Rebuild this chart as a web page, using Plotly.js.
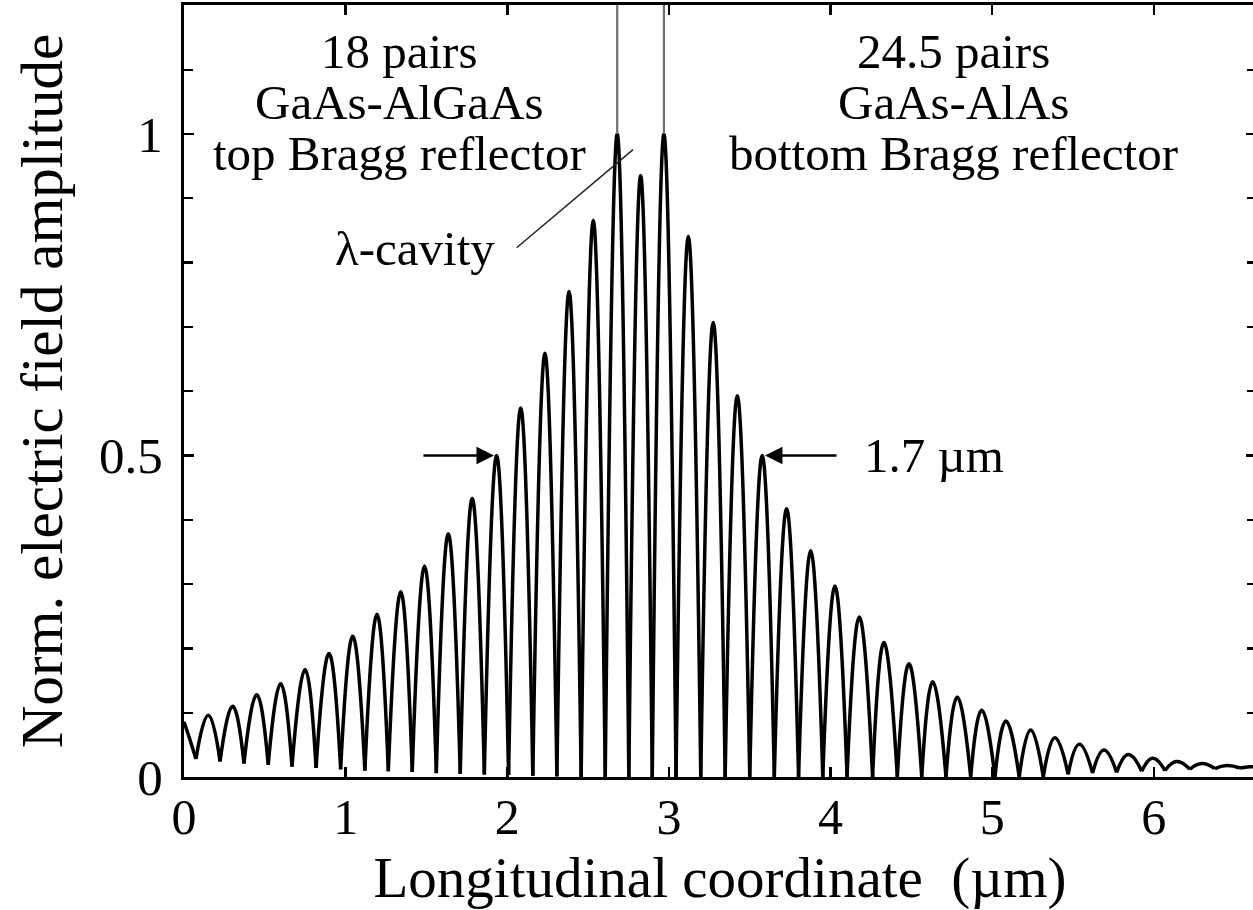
<!DOCTYPE html>
<html>
<head>
<meta charset="utf-8">
<script src="https://cdn.plot.ly/plotly-3.0.1.min.js"></script>
<style>html,body{margin:0;padding:0;overflow:hidden;background:#fff}</style>
</head>
<body>
<div id="chart" style="width:1258px;height:910px"></div>
<script>
// ---- data (x in µm, y = normalized |E|) ----
const startX = [0, 0.037];
const startY = [0.086, 0.058];

const peakX = [0.150, 0.301, 0.450, 0.598, 0.749, 0.897, 1.044, 1.194, 1.341, 1.488,
               1.635, 1.783, 1.934, 2.083, 2.233, 2.382, 2.532, 2.680,
               2.825,
               2.969, 3.120, 3.274, 3.423, 3.577, 3.728, 3.877, 4.027, 4.178, 4.330,
               4.485, 4.632, 4.784, 4.935, 5.085, 5.238, 5.388, 5.539, 5.691, 5.842,
               5.993, 6.141, 6.296, 6.450, 6.594];
const peakY = [0.096, 0.110, 0.128, 0.145, 0.167, 0.192, 0.219, 0.253, 0.288, 0.328,
               0.378, 0.433, 0.500, 0.574, 0.659, 0.755, 0.866, 1.000,
               0.935,
               1.000, 0.841, 0.707, 0.593, 0.500, 0.417, 0.352, 0.297, 0.249, 0.209,
               0.176, 0.148, 0.124, 0.104, 0.087, 0.073, 0.061, 0.051, 0.042, 0.035,
               0.029, 0.024, 0.021, 0.018, 0.016];

const troughX = [0.074, 0.223, 0.371, 0.521, 0.668, 0.817, 0.969, 1.119, 1.264, 1.412,
                 1.561, 1.709, 1.858, 2.008, 2.158, 2.307, 2.457, 2.606,
                 2.752, 2.897,
                 3.044, 3.197, 3.348, 3.500, 3.652, 3.802, 3.952, 4.102, 4.260, 4.413,
                 4.564, 4.714, 4.867, 5.017, 5.167, 5.316, 5.470, 5.621, 5.770, 5.925,
                 6.069, 6.223, 6.378, 6.533];
const troughY = [0.028, 0.024, 0.021, 0.019, 0.016, 0.014, 0.012, 0.010, 0.009, 0.008,
                 0.006, 0.005, 0.004, 0.003, 0.002, 0.001, 0, 0,
                 0, 0,
                 0, 0, 0, 0, 0, 0, 0, 0, 0, 0,
                 0, 0, 0, 0, 0, 0, 0.004, 0.006, 0.007, 0.009,
                 0.010, 0.012, 0.013, 0.014];

const endX = [6.632];
const endY = [0.0155];

// annotation pointer for the λ-cavity label
const pointerX = [2.058, 2.778];
const pointerY = [0.823, 0.9756];

// axis ticks
const xTickVals = [0, 1, 2, 3, 4, 5, 6];
const xTickText = ['0', '1', '2', '3', '4', '5', '6'];
const yTickVals = [0, 0.5, 1];
const yTickText = ['0', '0.5', '1'];
const yMinorVals = [0.1, 0.2, 0.3, 0.4, 0.6, 0.7, 0.8, 0.9, 1.1];

// ---- build hump segments (trough - peak - trough), separated by gaps ----
const X = [], Y = [];
startX.forEach((v, i) => { X.push(v); Y.push(startY[i]); });
X.push(troughX[0]); Y.push(troughY[0]); X.push(null); Y.push(null);
for (let i = 0; i < peakX.length; i++) {
  X.push(troughX[i]); Y.push(troughY[i]);
  X.push(peakX[i]); Y.push(peakY[i]);
  if (i + 1 < troughX.length) { X.push(troughX[i + 1]); Y.push(troughY[i + 1]); }
  else { X.push(endX[0]); Y.push(endY[0]); }
  X.push(null); Y.push(null);
}

const FONT = '"Liberation Serif", "Times New Roman", Times, serif';

const trace = {
  x: X, y: Y, type: 'scatter', mode: 'lines',
  line: {color: '#000', width: 3.5, shape: 'spline', smoothing: 1.3},
  connectgaps: false, hoverinfo: 'skip'
};

const cavL = 17, cavR = 19;
const yTop = 1.2006;

const txt = (text, x, y, xanchor) => ({
  text: text, x: x, y: y, xref: 'x', yref: 'y', showarrow: false,
  xanchor: xanchor || 'center', yanchor: 'middle',
  font: {family: FONT, size: 49, color: '#000'}
});

const layout = {
  width: 1258, height: 910,
  margin: {l: 184, r: 2, t: 5, b: 133, pad: 0},
  paper_bgcolor: '#fff', plot_bgcolor: '#fff',
  showlegend: false,
  font: {family: FONT, color: '#000'},
  xaxis: {
    range: [0, 6.632], tickmode: 'array', tickvals: xTickVals, ticktext: xTickText,
    ticks: 'inside', ticklen: 10, tickwidth: 2.5, tickcolor: '#000',
    showline: true, linewidth: 3, linecolor: '#000', mirror: 'ticks',
    showgrid: false, zeroline: false,
    tickfont: {family: FONT, size: 50, color: '#000'},
    ticklabelstandoff: -6,
    title: {text: 'Longitudinal coordinate\u00a0 (µm)', font: {family: FONT, size: 57, color: '#000'}, standoff: 14}
  },
  yaxis: {
    range: [0, yTop], tickmode: 'array', tickvals: yTickVals, ticktext: yTickText,
    ticks: 'inside', ticklen: 10, tickwidth: 2.5, tickcolor: '#000',
    minor: {tickmode: 'array', tickvals: yMinorVals, ticks: 'inside', ticklen: 9, tickwidth: 2.2, tickcolor: '#000', showgrid: false},
    showline: true, linewidth: 3, linecolor: '#000', mirror: 'ticks',
    showgrid: false, zeroline: false,
    tickfont: {family: FONT, size: 51, color: '#000'},
    ticklabelstandoff: 8,
    title: {text: 'Norm. electric field amplitude', font: {family: FONT, size: 59, color: '#000'}, standoff: 18}
  },
  shapes: [
    {type: 'line', xref: 'x', yref: 'y', x0: peakX[cavL], x1: peakX[cavL], y0: peakY[cavL], y1: yTop,
     line: {color: '#6e6e6e', width: 2.2}},
    {type: 'line', xref: 'x', yref: 'y', x0: peakX[cavR], x1: peakX[cavR], y0: peakY[cavR], y1: yTop,
     line: {color: '#6e6e6e', width: 2.2}},
    {type: 'line', xref: 'x', yref: 'y', x0: pointerX[0], x1: pointerX[1], y0: pointerY[0], y1: pointerY[1],
     line: {color: '#222', width: 1.5}}
  ],
  annotations: [
    txt('18 pairs', 1.336, 1.128),
    txt('GaAs-AlGaAs', 1.336, 1.049),
    txt('top Bragg reflector', 1.336, 0.9700),
    txt('24.5 pairs', 4.763, 1.128),
    txt('GaAs-AlAs', 4.763, 1.049),
    txt('bottom Bragg reflector', 4.763, 0.9700),
    txt('λ-cavity', 1.429, 0.822),
    txt('1.7 µm', 4.194, 0.500, 'left'),
    {x: 1.918, y: 0.5, ax: 1.472, ay: 0.5, xref: 'x', yref: 'y', axref: 'x', ayref: 'y',
     showarrow: true, arrowhead: 2, arrowsize: 1.4, arrowwidth: 2.5, arrowcolor: '#000', text: ''},
    {x: 3.594, y: 0.5, ax: 4.046, ay: 0.5, xref: 'x', yref: 'y', axref: 'x', ayref: 'y',
     showarrow: true, arrowhead: 2, arrowsize: 1.4, arrowwidth: 2.5, arrowcolor: '#000', text: ''}
  ]
};

Plotly.newPlot('chart', [trace], layout, {staticPlot: true, displayModeBar: false});
</script>
</body>
</html>
